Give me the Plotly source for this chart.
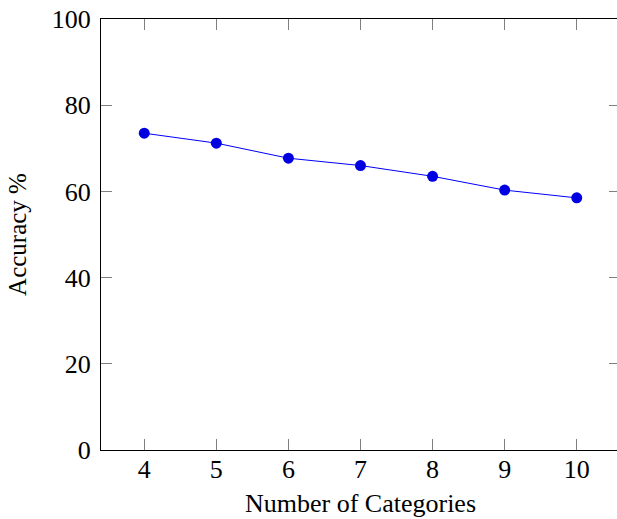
import plotly.graph_objects as go

categories = [4, 5, 6, 7, 8, 9, 10]
accuracy = [73.5, 71.2, 67.7, 66.0, 63.5, 60.3, 58.5]
y_ticks = [0, 20, 40, 60, 80, 100]

fig = go.Figure()
fig.add_trace(go.Scatter(
    x=categories, y=accuracy, mode="lines+markers",
    line=dict(color="rgb(0,0,255)", width=1),
    marker=dict(color="rgb(0,0,225)", size=11, line=dict(width=0)),
    showlegend=False,
))

font = "Liberation Serif"
fig.update_layout(
    width=620, height=519,
    margin=dict(l=101, r=0, t=19, b=69),
    paper_bgcolor="white", plot_bgcolor="white",
    font=dict(family=font, size=26, color="black"),
    xaxis=dict(
        range=[3.4, 10.6], tickvals=categories, ticks="inside", ticklen=11,
        tickcolor="gray", tickwidth=1, showline=True, linecolor="black", linewidth=1,
        mirror="ticks", showgrid=False, zeroline=False, ticklabelstandoff=-4,
        title=dict(text="Number of Categories", font=dict(size=26), standoff=10),
        tickfont=dict(size=26),
    ),
    yaxis=dict(
        range=[0, 100], tickvals=y_ticks, ticks="inside", ticklen=11,
        tickcolor="gray", tickwidth=1, showline=True, linecolor="black", linewidth=1,
        mirror="ticks", showgrid=False, zeroline=False, ticklabelstandoff=4,
        title=dict(text="Accuracy %", font=dict(size=25), standoff=18),
        tickfont=dict(size=26),
    ),
)

fig.write_html(
    "out.html",
    config={"displayModeBar": False},
    post_script="document.documentElement.style.overflow='hidden';document.body.style.overflow='hidden';document.body.style.margin='0';",
)
